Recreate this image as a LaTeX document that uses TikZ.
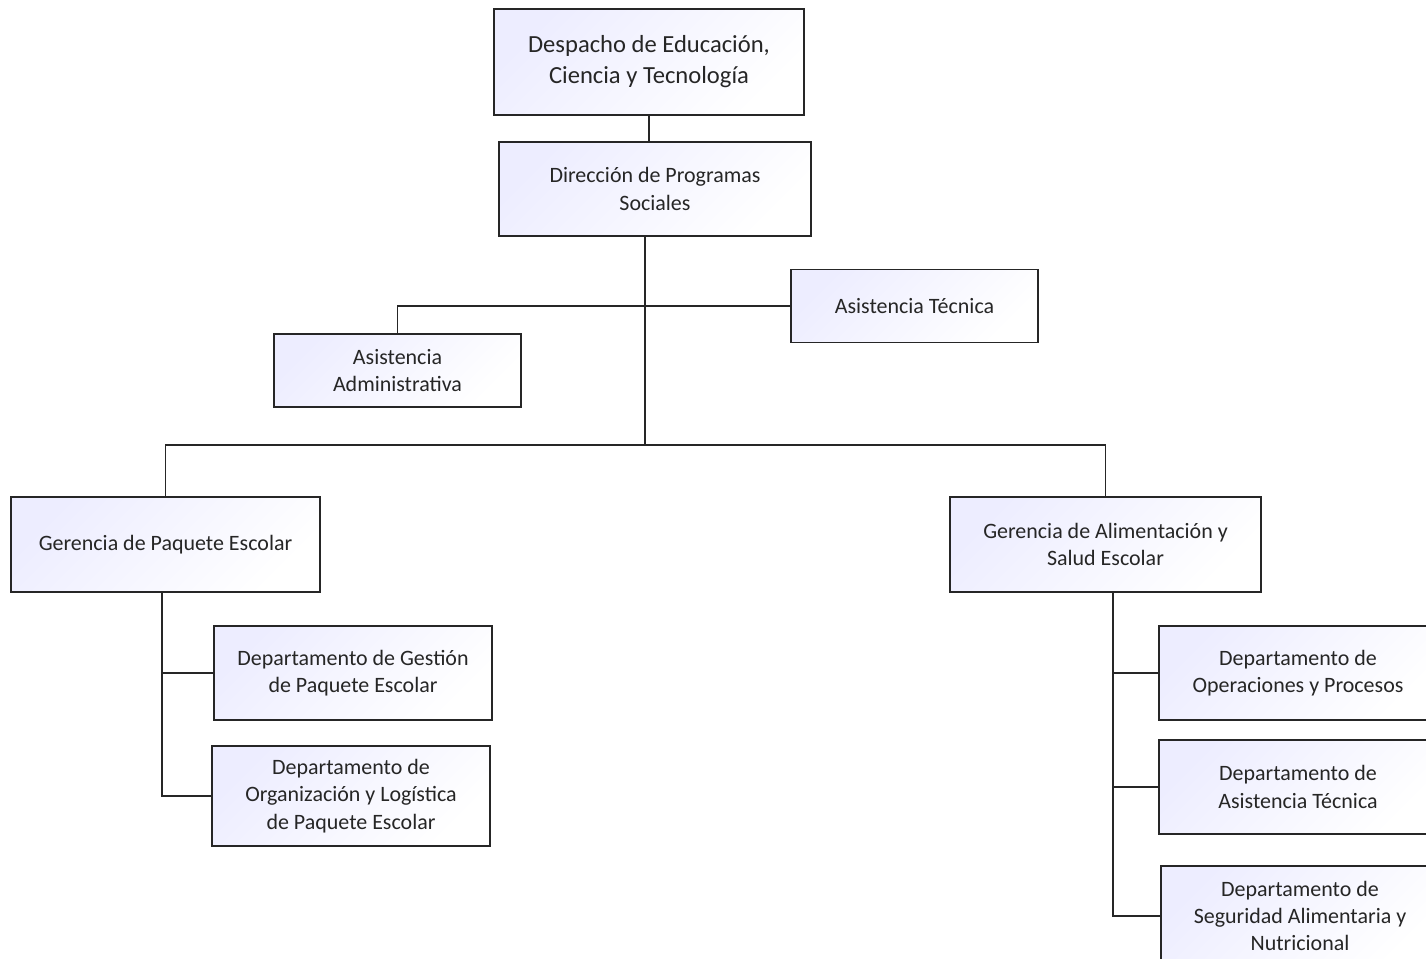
\documentclass[tikz,border=0pt]{standalone}
\usepackage{fontspec}
\setmainfont{Carlito}
\usepackage{tikz}

\tikzset{
  unit/.style={draw=black!85, line width=1.1pt, align=center, inner sep=2pt,
    top color=blue!7, middle color=white, bottom color=white, shading angle=45,
    font=\fontsize{12.5}{15.6}\selectfont, text=black!85},
  link/.style={draw=black!85, line width=1.1pt}
}

\begin{document}
\begin{tikzpicture}[x=0.02cm, y=-0.02cm]
\clip (0,0) rectangle (1426,958);
\useasboundingbox (0,0) rectangle (1426,958);

% top of the chart
\node[unit, minimum width=6.2cm, minimum height=2.12cm, font=\fontsize{14}{17.6}\selectfont]
  (desp) at (649,62) {Despacho de Educación,\\Ciencia y Tecnología};
\node[unit, minimum width=6.24cm, minimum height=1.88cm]
  (dir) at (655,189) {Dirección de Programas\\Sociales};

% assistants
\node[unit, minimum width=4.94cm, minimum height=1.46cm] (at) at (914.5,306) {Asistencia Técnica};
\node[unit, minimum width=4.94cm, minimum height=1.46cm] (aa) at (397.5,370.5) {Asistencia\\Administrativa};

% gerencias
\node[unit, minimum width=6.18cm, minimum height=1.9cm] (gp) at (165.5,544.5) {Gerencia de Paquete Escolar};
\node[unit, minimum width=6.22cm, minimum height=1.9cm] (ga) at (1105.5,544.5) {Gerencia de Alimentación y\\Salud Escolar};

% departamentos
\node[unit, minimum width=5.56cm, minimum height=1.88cm] (dgest) at (353,673) {Departamento de Gestión\\de Paquete Escolar};
\node[unit, minimum width=5.56cm, minimum height=2cm] (dorg) at (351,796) {Departamento de\\Organización y Logística\\de Paquete Escolar};
\node[unit, minimum width=5.56cm, minimum height=1.88cm] (dope) at (1298,673) {Departamento de\\Operaciones y Procesos};
\node[unit, minimum width=5.56cm, minimum height=1.88cm] (dasis) at (1298,787) {Departamento de\\Asistencia Técnica};
\node[unit, minimum width=5.56cm, minimum height=2cm] (dseg) at (1300,916) {Departamento de\\Seguridad Alimentaria y\\Nutricional};

% connectors
\coordinate (jG) at (645,445);
\coordinate (spL) at (162,592);
\coordinate (spR) at (1113,592);

\draw[link] (desp.south) -- (desp.south |- dir.north);
\draw[link] (jG |- dir.south) -- (jG);
\draw[link] (aa.north) |- (at.west);
\draw[link] (gp.north) |- (jG) -| (ga.north);

\draw[link] (spL) |- (dorg.west);
\draw[link] (dgest.west) -- (dgest.west -| spL);

\draw[link] (spR) |- (dseg.west);
\draw[link] (dope.west) -- (dope.west -| spR);
\draw[link] (dasis.west) -- (dasis.west -| spR);

\end{tikzpicture}
\end{document}
